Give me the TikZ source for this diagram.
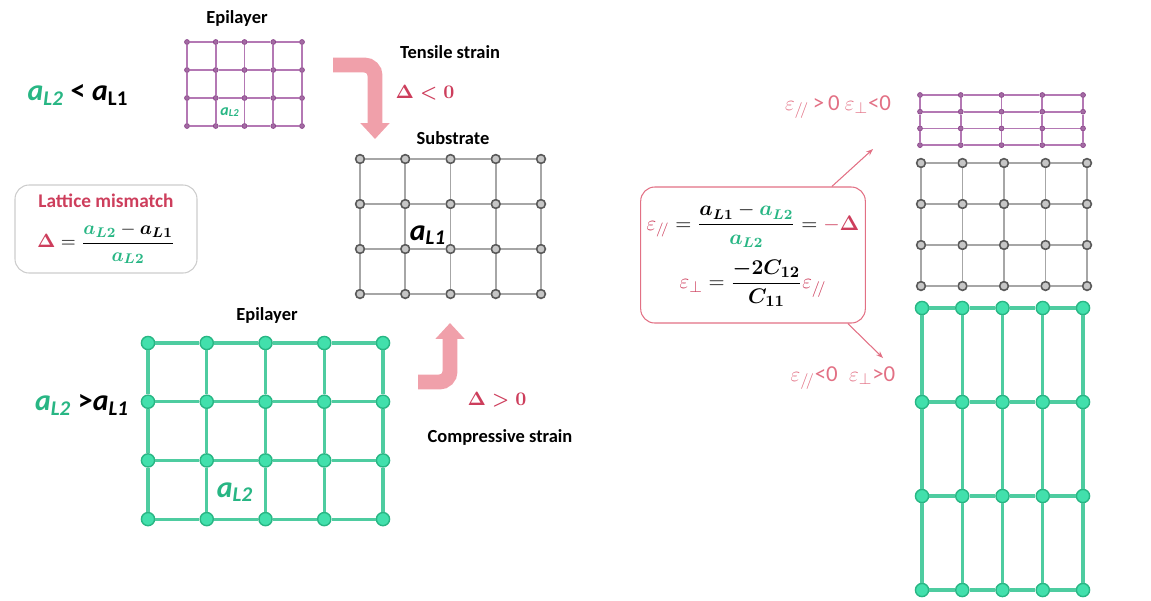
\documentclass[tikz,border=0pt]{standalone}
\usepackage{amsmath}
\usepackage{amssymb}
\usepackage{xcolor}
\usepackage{fontspec}
\setsansfont{Carlito}
\usepackage{tikz}
\usetikzlibrary{
    positioning,
    arrows.meta
}

\definecolor{mred}{RGB}{205,62,92}
\definecolor{mpink}{RGB}{226,112,132}
\definecolor{mgreen}{RGB}{40,182,132}
\definecolor{tealdot}{RGB}{66,224,172}
\definecolor{tealline}{RGB}{78,204,160}
\definecolor{purpdot}{RGB}{140,70,140}
\definecolor{purpline}{RGB}{180,120,180}
\definecolor{arrowpink}{RGB}{240,160,170}

\begin{document}
\begin{tikzpicture}[
      x=0.02cm, y=-0.02cm,
      label/.style={font=\sffamily\bfseries\fontsize{10.5}{12}\selectfont, inner sep=1pt},
      pdot/.style={circle, draw=purpdot, fill=purpdot!80, minimum size=2.8pt, inner sep=0pt},
      pline/.style={purpline, line width=0.9pt},
      gdot/.style={circle, draw=black!65, fill=gray!45, line width=0.9pt, minimum size=5pt, inner sep=0pt},
      gline/.style={gray!70, line width=0.9pt},
      tdot/.style={circle, draw=mgreen, fill=tealdot, line width=0.8pt, minimum size=7.5pt, inner sep=0pt},
      tline/.style={tealline, line width=1.8pt},
      bent/.style={arrowpink, line width=8.5pt, rounded corners=6pt, -{Triangle[length=9pt, width=16pt]}},
      thin/.style={mpink, line width=0.6pt, -{Stealth[length=4pt]}},
      box/.style={draw=#1, rounded corners=8pt, line width=0.6pt, align=center}
    ]
    \useasboundingbox (0,0) rectangle (1151,600);

    % top epilayer (smaller lattice constant)
    \foreach \i in {0,...,4} \foreach \j in {0,...,3}
      \node[pdot] (ep-\i-\j) at ({187+28.75*\i},{42+28*\j}) {};
    \foreach \i [count=\k] in {0,...,3} \foreach \j in {0,...,3}
      \draw[pline] (ep-\i-\j) -- (ep-\k-\j);
    \foreach \i in {0,...,4} \foreach \j [count=\k] in {0,...,2}
      \draw[pline] (ep-\i-\j) -- (ep-\i-\k);
    \node[label] (epitop) at (237,18) {Epilayer};
    \node[font=\sffamily\bfseries\itshape\fontsize{9}{10}\selectfont, text=mgreen, inner sep=0pt] (aepi) at (230,112) {a\textsubscript{L2}};
    \node[font=\sffamily\bfseries\itshape\fontsize{17}{18}\selectfont, inner sep=0pt] (lesser) at (78,95)
      {\textcolor{mgreen}{a\textsubscript{L2}} \upshape<\itshape{} a\textsubscript{\upshape L1}};

    % substrate
    \foreach \i in {0,...,4} \foreach \j in {0,...,3}
      \node[gdot] (sub-\i-\j) at ({360+45.25*\i},{159+45*\j}) {};
    \foreach \i [count=\k] in {0,...,3} \foreach \j in {0,...,3}
      \draw[gline] (sub-\i-\j) -- (sub-\k-\j);
    \foreach \i in {0,...,4} \foreach \j [count=\k] in {0,...,2}
      \draw[gline] (sub-\i-\j) -- (sub-\i-\k);
    \node[label] (subst) at (453,138) {Substrate};
    \node[font=\sffamily\bfseries\itshape\fontsize{17}{18}\selectfont, inner sep=0pt] (asub) at (428,235) {a\textsubscript{L1}};

    % tensile arrow
    \coordinate (tens-a) at (333,65);
    \coordinate (tens-b) at (375,139);
    \draw[bent] (tens-a) -| (tens-b);
    \node[label] (tensile) at (450,52) {Tensile strain};
    \node[text=mred, font=\fontsize{10.5}{12}\selectfont] (dneg) at (425,93) {$\boldsymbol{\Delta<0}$};

    % lattice mismatch
    \node[box=gray!40, minimum width=182*0.02cm, minimum height=88*0.02cm] (mismatch) at (106,229)
      {{\sffamily\bfseries\fontsize{11}{13}\selectfont\color{mred}Lattice mismatch}\\[8pt]
       {\fontsize{11}{13}\selectfont$\textcolor{mred}{\boldsymbol{\Delta}} = \dfrac{\textcolor{mgreen}{\boldsymbol{a_{L2}}} - \boldsymbol{a_{L1}}}{\textcolor{mgreen}{\boldsymbol{a_{L2}}}}$}};

    % bottom epilayer (larger lattice constant)
    \foreach \i in {0,...,4} \foreach \j in {0,...,3}
      \node[tdot] (eb-\i-\j) at ({148+58.75*\i},{343+58.7*\j}) {};
    \foreach \i [count=\k] in {0,...,3} \foreach \j in {0,...,3}
      \draw[tline] (eb-\i-\j) -- (eb-\k-\j);
    \foreach \i in {0,...,4} \foreach \j [count=\k] in {0,...,2}
      \draw[tline] (eb-\i-\j) -- (eb-\i-\k);
    \node[label] (epibot) at (267,315) {Epilayer};
    \node[font=\sffamily\bfseries\itshape\fontsize{17}{18}\selectfont, text=mgreen, inner sep=0pt] (aeb) at (235,492) {a\textsubscript{L2}};
    \node[font=\sffamily\bfseries\itshape\fontsize{17}{18}\selectfont, inner sep=0pt] (greater) at (82,405)
      {\textcolor{mgreen}{a\textsubscript{L2}} \upshape>\itshape a\textsubscript{L1}};

    % compressive arrow
    \coordinate (comp-a) at (418,382);
    \coordinate (comp-b) at (450,323);
    \draw[bent] (comp-a) -| (comp-b);
    \node[text=mred, font=\fontsize{10.5}{12}\selectfont] (dpos) at (497,400) {$\boldsymbol{\Delta>0}$};
    \node[label] (compress) at (500,437) {Compressive strain};

    % strain relations
    \node[box=mpink, minimum width=220*0.02cm, minimum height=136*0.02cm] (formula) at (753,255)
      {\fontsize{12}{14}\selectfont
       $\textcolor{mred}{\varepsilon_{/\!/}} = \dfrac{\boldsymbol{a_{L1}} - \textcolor{mgreen}{\boldsymbol{a_{L2}}}}{\textcolor{mgreen}{\boldsymbol{a_{L2}}}} = \textcolor{mred}{-\boldsymbol{\Delta}}$\\[6pt]
       {\fontsize{12.5}{15}\selectfont$\textcolor{mred}{\varepsilon_{\perp}} = \dfrac{\boldsymbol{-2C_{12}}}{\boldsymbol{C_{11}}}\textcolor{mred}{\varepsilon_{/\!/}}$}};
    \coordinate (up) at (873,149);
    \coordinate (down) at (883,358);
    \draw[thin] ([xshift=-0.68cm]formula.north east) -- (up);
    \draw[thin] ([xshift=-0.36cm]formula.south east) -- (down);
    \node[text=mpink, font=\sffamily\fontsize{13}{15}\selectfont] (tensl) at (838,107)
      {$\varepsilon_{/\!/}$\,>\,0 $\varepsilon_{\perp}$<0};
    \node[text=mpink, font=\sffamily\fontsize{13}{15}\selectfont] (compl) at (843,378)
      {$\varepsilon_{/\!/}$<0\enspace$\varepsilon_{\perp}$>0};

    % strained stack on the right
    \foreach \i in {0,...,4} \foreach \j in {0,...,3}
      \node[pdot] (rp-\i-\j) at ({920+40.75*\i},{95+16.7*\j}) {};
    \foreach \i [count=\k] in {0,...,3} \foreach \j in {0,...,3}
      \draw[pline] (rp-\i-\j) -- (rp-\k-\j);
    \foreach \i in {0,...,4} \foreach \j [count=\k] in {0,...,2}
      \draw[pline] (rp-\i-\j) -- (rp-\i-\k);

    \foreach \i in {0,...,4} \foreach \j in {0,...,3}
      \node[gdot] (rs-\i-\j) at ({921+41.5*\i},{163+41*\j}) {};
    \foreach \i [count=\k] in {0,...,3} \foreach \j in {0,...,3}
      \draw[gline] (rs-\i-\j) -- (rs-\k-\j);
    \foreach \i in {0,...,4} \foreach \j [count=\k] in {0,...,2}
      \draw[gline] (rs-\i-\j) -- (rs-\i-\k);

    \foreach \i in {0,...,4} \foreach \j in {0,...,3}
      \node[tdot] (rg-\i-\j) at ({922+40.25*\i},{308+94*\j}) {};
    \foreach \i [count=\k] in {0,...,3} \foreach \j in {0,...,3}
      \draw[tline] (rg-\i-\j) -- (rg-\k-\j);
    \foreach \i in {0,...,4} \foreach \j [count=\k] in {0,...,2}
      \draw[tline] (rg-\i-\j) -- (rg-\i-\k);
  \end{tikzpicture}
\end{document}
